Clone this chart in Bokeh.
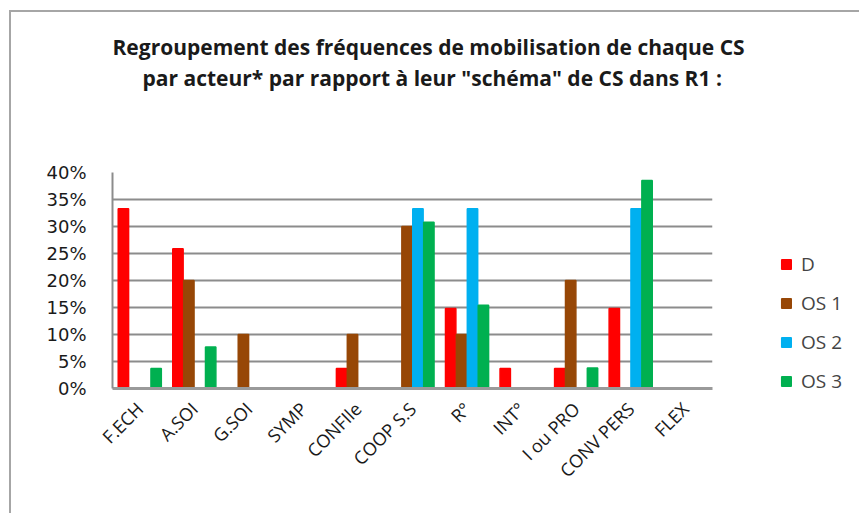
from math import pi
from bokeh.plotting import figure
from bokeh.models import (ColumnDataSource, FactorRange, Range1d, Legend, LegendItem,
                          Title, NumeralTickFormatter, FixedTicker)
from bokeh.transform import dodge
from bokeh.embed import file_html
from bokeh.resources import INLINE

categories = ["F.ECH", "A.SOI", "G.SOI", "SYMP", "CONFIle", "COOP S.S", "R°", "INT°",
              "I ou PRO", "CONV PERS", "FLEX"]
D   = [0.333, 0.259, 0.0, 0.0, 0.037, 0.0, 0.148, 0.037, 0.037, 0.148, 0.0]
OS1 = [0.0, 0.20, 0.10, 0.0, 0.10, 0.30, 0.10, 0.0, 0.20, 0.0, 0.0]
OS2 = [0.0, 0.0, 0.0, 0.0, 0.0, 0.333, 0.333, 0.0, 0.0, 0.333, 0.0]
OS3 = [0.037, 0.077, 0.0, 0.0, 0.0, 0.308, 0.154, 0.0, 0.038, 0.385, 0.0]
series_names = ["D", "OS 1", "OS 2", "OS 3"]
series_colors = ["#FF0000", "#974706", "#00B0F0", "#00B050"]
y_ticks = [0, 0.05, 0.10, 0.15, 0.20, 0.25, 0.30, 0.35, 0.40]
title_lines = ["Regroupement des fréquences de mobilisation de chaque CS",
               'par acteur* par rapport à leur "schéma" de CS  dans R1 :']

src = ColumnDataSource(dict(cat=categories, D=D, OS1=OS1, OS2=OS2, OS3=OS3))

p = figure(frame_width=600, frame_height=216, x_range=FactorRange(*categories),
           y_range=Range1d(0, 0.40), output_backend="svg", toolbar_location=None,
           min_border_left=101, min_border_right=0, min_border_top=160, min_border_bottom=125)
p.styles = {"margin-left": "9px", "margin-top": "10px",
            "border-left": "2px solid #a6a6a6", "border-top": "2px solid #a6a6a6"}

title_style = dict(text_font="Open Sans", text_font_size="21px", text_font_style="bold",
                   text_color="#1a1a1a")
p.add_layout(Title(text=" ", align="left", standoff=51, **title_style), "above")
p.add_layout(Title(text=title_lines[1], align="left", offset=30, standoff=0, **title_style), "above")
p.add_layout(Title(text=title_lines[0], align="left", offset=0, standoff=1, **title_style), "above")

keys = ["D", "OS1", "OS2", "OS3"]
offsets = [-0.3, -0.1, 0.1, 0.3]
renderers = []
for k, off, col in zip(keys, offsets, series_colors):
    r = p.vbar(x=dodge("cat", off, range=p.x_range), top=k, bottom=0, width=0.19, source=src,
               fill_color=col, line_color=col, line_width=1.5)
    renderers.append(r)

legend = Legend(items=[LegendItem(label=n, renderers=[r]) for n, r in zip(series_names, renderers)],
                location=(68, -6), border_line_color=None, background_fill_alpha=0,
                glyph_width=12, glyph_height=12, label_height=26, spacing=13,
                label_text_font="Open Sans", label_text_font_size="19px", label_standoff=9,
                padding=0, margin=0)
p.add_layout(legend, "right")

p.yaxis.ticker = FixedTicker(ticks=y_ticks)
p.yaxis.formatter = NumeralTickFormatter(format="0%")
p.yaxis.major_label_text_font = "DejaVu Sans"
p.yaxis.major_label_text_font_size = "18px"
p.yaxis.major_label_text_color = "#1a1a1a"
p.yaxis.major_tick_line_color = None
p.yaxis.minor_tick_line_color = None
p.yaxis.axis_line_color = "#8c8c8c"
p.yaxis.axis_line_width = 2
p.yaxis.major_label_standoff = 20

p.xaxis.major_label_orientation = pi / 4
p.xaxis.major_label_text_font = "Open Sans"
p.xaxis.major_label_text_font_size = "18px"
p.xaxis.major_label_text_color = "#1a1a1a"
p.xaxis.major_tick_line_color = None
p.xaxis.axis_line_color = "#9a9a9a"
p.xaxis.axis_line_width = 3
p.xaxis.major_label_standoff = 11

p.xgrid.grid_line_color = None
p.ygrid.grid_line_color = "#8c8c8c"
p.ygrid.grid_line_width = 2
p.outline_line_color = None
p.x_range.range_padding = 0

open("out.html", "w").write(file_html(p, INLINE))
